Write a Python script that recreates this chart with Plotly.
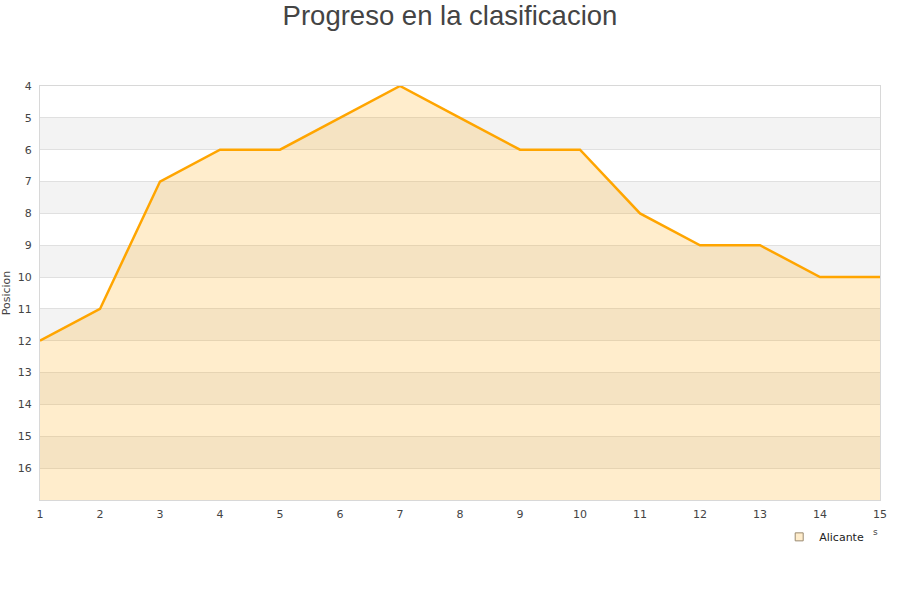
import plotly.graph_objects as go

jornadas = list(range(1, 16))
posiciones = [12, 11, 7, 6, 6, 5, 4, 5, 6, 6, 8, 9, 9, 10, 10]
equipo = "Alicante"
y_ticks = list(range(4, 17))
y_min, y_max = 4, 17

fig = go.Figure()

# alternating bands
shapes = []
for k in range(5, 17, 2):
    shapes.append(dict(type="rect", xref="paper", yref="y", x0=0, x1=1, y0=k, y1=k + 1,
                       fillcolor="#f3f3f3", line=dict(width=0), layer="below"))

# baseline for fill
fig.add_trace(go.Scatter(x=jornadas, y=[y_max] * len(jornadas), mode="lines",
                         line=dict(width=0, color="rgba(0,0,0,0)"), showlegend=False,
                         hoverinfo="skip"))
fig.add_trace(go.Scatter(x=jornadas, y=posiciones, mode="lines", fill="tonexty",
                         fillcolor="rgba(255,165,0,0.2)",
                         line=dict(color="#FFA500", width=2.5), showlegend=False,
                         name=equipo))
fig.add_trace(go.Scatter(x=[None], y=[None], mode="markers", name=equipo,
                         marker=dict(symbol="square", size=8, color="#ffedcc",
                                     line=dict(color="#9a8a70", width=1))))

fig.update_layout(
    width=900, height=600,
    paper_bgcolor="white", plot_bgcolor="white",
    margin=dict(l=40, r=20, t=86, b=100, autoexpand=False),
    title=dict(text="Progreso en la clasificacion", x=0.5, xanchor="center", y=0.975, yanchor="middle",
               font=dict(family="Liberation Sans, Arial", size=27.5, color="#444")),
    font=dict(family="DejaVu Sans", size=11, color="#444"),
    shapes=shapes,
    showlegend=True,
    legend=dict(x=0.880, y=-0.054, xanchor="left", yanchor="top", bgcolor="rgba(0,0,0,0)",
                font=dict(size=11, color="#222"), itemwidth=30),
    xaxis=dict(range=[1, 15], tickvals=jornadas, showgrid=False, zeroline=False, automargin=False,
               showline=True, linecolor="#d8d8d8", linewidth=1, mirror=True,
               ticks="", ticklabelstandoff=4, tickfont=dict(size=11, color="#444")),
    yaxis=dict(range=[y_max, y_min], tickvals=y_ticks, showgrid=True, gridcolor="#e0e0e0",
               zeroline=False, showline=True, linecolor="#d8d8d8", linewidth=1, mirror=True,
               automargin=False, ticks="", ticklabelstandoff=5, tickfont=dict(size=11, color="#444"),
               title=dict(text="Posicion", font=dict(size=11, color="#444"))),
)

fig.add_annotation(text="s", xref="paper", yref="paper", x=1.0, y=-0.094,
                   showarrow=False, font=dict(size=9, color="#444"))

fig.write_html("out.html", config={"displayModeBar": False},
               post_script="document.body.style.margin='0';"
               "document.body.style.padding='0';")
